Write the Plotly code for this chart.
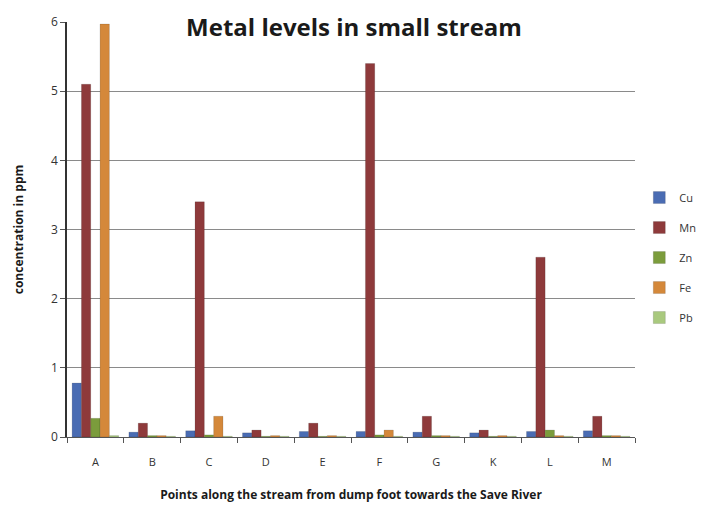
import plotly.graph_objects as go

categories = ["A", "B", "C", "D", "E", "F", "G", "K", "L", "M"]
cu = [0.78, 0.07, 0.09, 0.06, 0.08, 0.08, 0.07, 0.06, 0.08, 0.09]
mn = [5.1, 0.2, 3.4, 0.1, 0.2, 5.4, 0.3, 0.1, 2.6, 0.3]
zn = [0.27, 0.02, 0.03, 0.01, 0.01, 0.03, 0.02, 0.01, 0.1, 0.02]
fe = [5.97, 0.02, 0.3, 0.02, 0.02, 0.1, 0.02, 0.02, 0.02, 0.02]
pb = [0.02, 0.01, 0.01, 0.01, 0.01, 0.01, 0.01, 0.01, 0.01, 0.01]

series = [
    ("Cu", cu, "#4a6cb3"),
    ("Mn", mn, "#8e3a3b"),
    ("Zn", zn, "#7b9c3c"),
    ("Fe", fe, "#d4883a"),
    ("Pb", pb, "#a9c97e"),
]

fig = go.Figure()
for name, vals, col in series:
    fig.add_trace(go.Bar(
        x=categories, y=vals, name=name, legendgroup=name,
        marker=dict(color=col, line=dict(color="rgba(0,0,0,0.25)", width=0.5)),
    ))

fig.update_layout(
    width=701, height=505,
    margin=dict(l=67, r=66, t=22, b=68, autoexpand=False),
    paper_bgcolor="white", plot_bgcolor="white",
    barmode="group", bargap=0.18, bargroupgap=0.0,
    font=dict(family="Open Sans, Liberation Sans, sans-serif", color="#333"),
    title=dict(text="<b>Metal levels in small stream</b>", x=0.505, xanchor="center",
               y=0.945, yanchor="middle", font=dict(size=24, color="#1a1a1a")),
    legend=dict(xref="container", yref="container", x=0.912, xanchor="left",
                y=0.49, yanchor="middle",
                font=dict(size=11, color="#333"), itemwidth=30,
                tracegroupgap=11, bgcolor="rgba(0,0,0,0)"),
    showlegend=True,
)
fig.update_xaxes(
    showline=True, linecolor="#555", linewidth=1,
    ticks="outside", ticklen=5, tickcolor="#555",
    tickson="boundaries",
    tickfont=dict(size=11, color="#333"),
    ticklabelstandoff=15,
    title=dict(text="<b>Points along the stream from dump foot towards the Save River</b>",
               font=dict(size=12, color="#1a1a1a"), standoff=22),
)
fig.update_yaxes(
    range=[0, 6], dtick=1,
    showline=True, linecolor="#333", linewidth=1.5,
    ticks="outside", ticklen=5, tickcolor="#555",
    showgrid=True, gridcolor="#8a8a8a", gridwidth=1,
    tickfont=dict(size=12, color="#333"),
    zeroline=False,
    title=dict(text="<b>concentration in ppm</b>", font=dict(size=12, color="#1a1a1a"), standoff=25),
)

fig.write_html("out.html")
